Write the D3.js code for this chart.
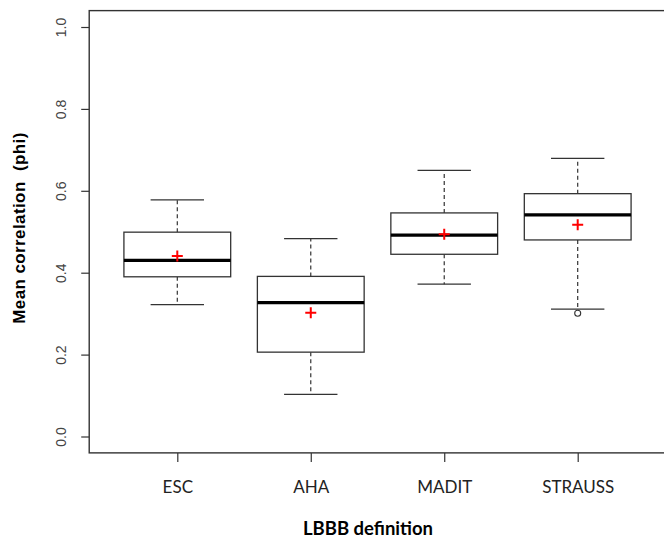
<!DOCTYPE html>
<html><head><meta charset="utf-8">
<script src="https://cdn.jsdelivr.net/npm/d3@7"></script>
<style>body{margin:0;background:#fff}</style>
</head><body>
<svg id="c" width="664" height="538"></svg>
<script>
const categories = ["ESC", "AHA", "MADIT", "STRAUSS"];
const lowerWhisker = [0.322, 0.103, 0.372, 0.311];
const q1 = [0.390, 0.206, 0.445, 0.480];
const median = [0.430, 0.327, 0.492, 0.541];
const q3 = [0.499, 0.391, 0.546, 0.593];
const upperWhisker = [0.578, 0.483, 0.650, 0.679];
const means = [0.441, 0.302, 0.494, 0.517];
const outliers = [[], [], [], [0.301]];
const yTicks = [0, 0.2, 0.4, 0.6, 0.8, 1.0];

(function () {
const svg = d3.select("#c");
const x = d3.scalePoint().domain(categories).range([177.3, 577.7]);
const step = x.step();
const y = d3.scaleLinear().domain([0, 1]).range([436.5, 27]);
const bw = step * 0.8;
const line = "#333";

const frameLeft = x(categories[0]) - 0.66 * step;
const frameRight = x(categories[categories.length - 1]) + 0.66 * step;
const frameTop = y(1.04), frameBottom = y(-0.04);

// y axis
const yAxis = d3.axisLeft(y).tickValues(yTicks).tickSize(8).tickFormat(d3.format(".1f"));
const gy = svg.append("g").attr("transform", `translate(${frameLeft},0)`).call(yAxis);
gy.select(".domain").remove();
gy.selectAll(".tick line").attr("stroke", line).attr("stroke-width", 1.2);
gy.selectAll(".tick text")
  .attr("transform", "rotate(-90)")
  .attr("x", 0).attr("y", -28).attr("dy", "0.35em")
  .attr("text-anchor", "middle")
  .attr("fill", "#444")
  .style("font-family", "Liberation Sans, Arial, sans-serif")
  .style("font-size", "14px");

// x axis
const xAxis = d3.axisBottom(x).tickSize(9).tickPadding(19);
const gx = svg.append("g").attr("transform", `translate(0,${frameBottom})`).call(xAxis);
gx.select(".domain").remove();
gx.selectAll(".tick line").attr("stroke", line).attr("stroke-width", 1.2);
gx.selectAll(".tick text")
  .attr("fill", "#222")
  .style("font-family", "Lato, sans-serif")
  .style("font-size", "17px");

// frame
svg.append("rect").attr("x", frameLeft).attr("y", frameTop)
  .attr("width", frameRight - frameLeft).attr("height", frameBottom - frameTop)
  .attr("fill", "none").attr("stroke", line).attr("stroke-width", 1.4);

const data = categories.map((c, i) => ({c, lo: lowerWhisker[i], q1: q1[i], med: median[i], q3: q3[i], hi: upperWhisker[i], mean: means[i], out: outliers[i]}));

const g = svg.append("g").selectAll("g").data(data).join("g");
// whiskers
g.append("line").attr("x1", d => x(d.c)).attr("x2", d => x(d.c))
  .attr("y1", d => y(d.q3)).attr("y2", d => y(d.hi))
  .attr("stroke", line).attr("stroke-width", 1.2).attr("stroke-dasharray", "4,3");
g.append("line").attr("x1", d => x(d.c)).attr("x2", d => x(d.c))
  .attr("y1", d => y(d.q1)).attr("y2", d => y(d.lo))
  .attr("stroke", line).attr("stroke-width", 1.2).attr("stroke-dasharray", "4,3");
// caps
g.append("line").attr("x1", d => x(d.c) - bw / 4).attr("x2", d => x(d.c) + bw / 4)
  .attr("y1", d => y(d.hi)).attr("y2", d => y(d.hi))
  .attr("stroke", line).attr("stroke-width", 1.3);
g.append("line").attr("x1", d => x(d.c) - bw / 4).attr("x2", d => x(d.c) + bw / 4)
  .attr("y1", d => y(d.lo)).attr("y2", d => y(d.lo))
  .attr("stroke", line).attr("stroke-width", 1.3);
// box
g.append("rect").attr("x", d => x(d.c) - bw / 2).attr("width", bw)
  .attr("y", d => y(d.q3)).attr("height", d => y(d.q1) - y(d.q3))
  .attr("fill", "#fff").attr("stroke", line).attr("stroke-width", 1.3);
// median
g.append("line").attr("x1", d => x(d.c) - bw / 2).attr("x2", d => x(d.c) + bw / 2)
  .attr("y1", d => y(d.med)).attr("y2", d => y(d.med))
  .attr("stroke", "#000").attr("stroke-width", 3.2);
// outliers
g.selectAll("circle").data(d => d.out.map(v => ({c: d.c, v}))).join("circle")
  .attr("cx", d => x(d.c)).attr("cy", d => y(d.v)).attr("r", 3)
  .attr("fill", "#fff").attr("stroke", line).attr("stroke-width", 1.1);
// mean crosses
const s = 5.5;
g.append("path")
  .attr("d", d => `M${x(d.c) - s},${y(d.mean)}H${x(d.c) + s}M${x(d.c)},${y(d.mean) - s}V${y(d.mean) + s}`)
  .attr("stroke", "#ff0000").attr("stroke-width", 2).attr("fill", "none");

// axis titles
svg.append("text").attr("transform", `translate(25,228) rotate(-90)`)
  .attr("text-anchor", "middle")
  .style("font-family", "Liberation Sans, Arial, sans-serif")
  .style("font-weight", "bold").style("font-size", "17px")
  .style("letter-spacing", "0.4px")
  .style("white-space", "pre")
  .text("Mean correlation  (phi)");
svg.append("text").attr("x", 368).attr("y", 535)
  .attr("text-anchor", "middle")
  .style("font-family", "Lato, sans-serif")
  .style("font-weight", "bold").style("font-size", "18.5px")
  .text("LBBB definition");
})();
</script>
</body></html>
